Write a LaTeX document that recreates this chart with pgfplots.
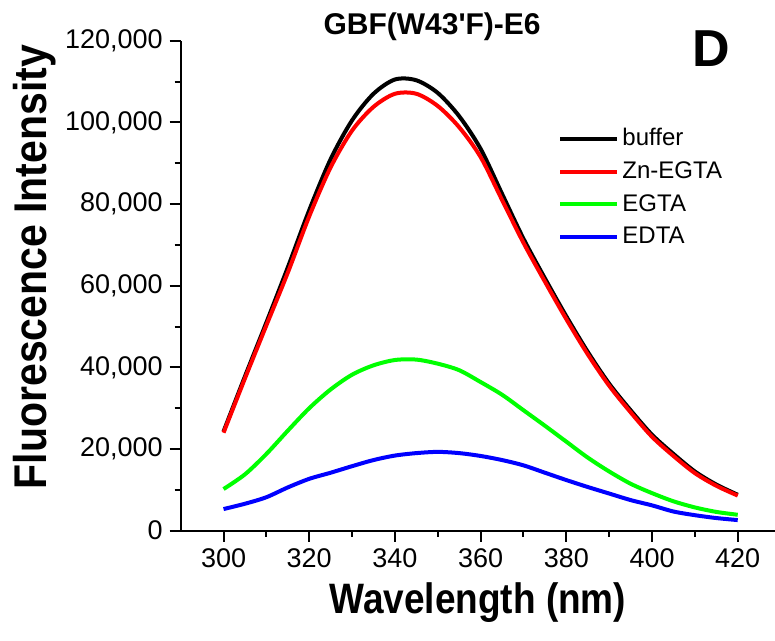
\documentclass[border=0pt]{standalone}
\usepackage{fontspec}
\setmainfont{Liberation Sans}
\newfontfamily\plainfont{Liberation Sans}
\usepackage{pgfplots}
\pgfplotsset{compat=1.18}
\definecolor{cgreen}{RGB}{0,255,0}
\definecolor{cred}{RGB}{255,0,0}
\definecolor{cblue}{RGB}{0,0,255}

\begin{document}
\begin{tikzpicture}
\useasboundingbox (-90.35pt,-55.15pt) rectangle (297.15pt,265.35pt);
\begin{axis}[
  scale only axis, width=297.15pt, height=245pt,
  xmin=290, xmax=428.7, ymin=0, ymax=120000,
  clip=false,
  axis x line=bottom, axis y line=left,
  axis line style={-, line width=1pt},
  tick style={black, line width=1pt},
  major tick length=5.5pt, minor tick length=3pt,
  tick align=outside,
  xtick={300,320,...,420}, minor x tick num=1,
  ytick={0,20000,...,120000}, minor y tick num=1,
  scaled y ticks=false,
  yticklabel style={/pgf/number format/.cd, fixed, 1000 sep={,}},
  /pgf/number format/assume math mode=true,
  tick label style={font=\fontsize{13.5}{14}\selectfont},
  xlabel={Wavelength (nm)},
  ylabel={Fluorescence Intensity},
  xlabel style={at={(axis description cs:0.5,-0.1476)}, anchor=center, font=\bfseries\fontsize{18.5}{20}\selectfont, yscale=1.15},
  ylabel style={at={(axis description cs:-0.245,0.538)}, anchor=center, font=\bfseries\fontsize{20.5}{22}\selectfont, yscale=1.12},
  legend style={at={(0.635,0.828)}, anchor=north west, draw=none, fill=none,
    font=\fontsize{12}{13}\selectfont, inner sep=0pt, row sep=3.5pt,
    nodes={inner sep=1.5pt}},
  legend cell align=left,
  legend image code/.code={\draw[#1] (0pt,0pt) -- (28.5pt,0pt);},
  every axis plot/.append style={line width=2pt, line join=round, smooth, tension=0.5},
]
\addplot[black] coordinates {
(300,24300)(305,37800)(310,51000)(315,64500)(320,78500)(325,91000)(330,100500)
(335,107000)(340,110500)(345,110300)(350,107200)(355,101500)(360,93500)(365,82500)
(370,71500)(375,61800)(380,52500)(385,43800)(390,36000)(395,29500)(400,23500)
(405,18800)(410,14500)(415,11300)(420,8800)};
\addlegendentry{buffer}
\addplot[cred] coordinates {
(300,24000)(305,37300)(310,50300)(315,63200)(320,77000)(325,89000)(330,98000)
(335,103800)(340,107000)(345,107000)(350,104000)(355,98800)(360,91500)(365,81000)
(370,70500)(375,61000)(380,51800)(385,43200)(390,35500)(395,29000)(400,23000)
(405,18300)(410,14100)(415,11000)(420,8600)};
\addlegendentry{Zn-EGTA}
\addplot[cgreen] coordinates {
(300,10200)(305,13800)(310,18800)(315,24500)(320,30000)(325,34600)(330,38200)
(335,40500)(340,41800)(345,41900)(350,40900)(355,39300)(360,36400)(365,33300)
(370,29500)(375,25700)(380,21800)(385,17900)(390,14500)(395,11500)(400,9200)
(405,7200)(410,5700)(415,4600)(420,3900)};
\addlegendentry{EGTA}
\addplot[cblue] coordinates {
(300,5300)(305,6600)(310,8200)(315,10600)(320,12700)(325,14200)(330,15800)
(335,17300)(340,18400)(345,19000)(350,19300)(355,19000)(360,18300)(365,17300)
(370,16000)(375,14200)(380,12400)(385,10700)(390,9100)(395,7500)(400,6200)
(405,4700)(410,3800)(415,3100)(420,2600)};
\addlegendentry{EDTA}
\node[font=\plainfont\bfseries\fontsize{15}{16}\selectfont, yshift=6.85pt] at (rel axis cs:0.423,1) {GBF(W43'F)-E6};
\node[font=\bfseries\fontsize{26}{28}\selectfont] at (rel axis cs:0.892,0.983) {D};
\end{axis}
\end{tikzpicture}
\end{document}
